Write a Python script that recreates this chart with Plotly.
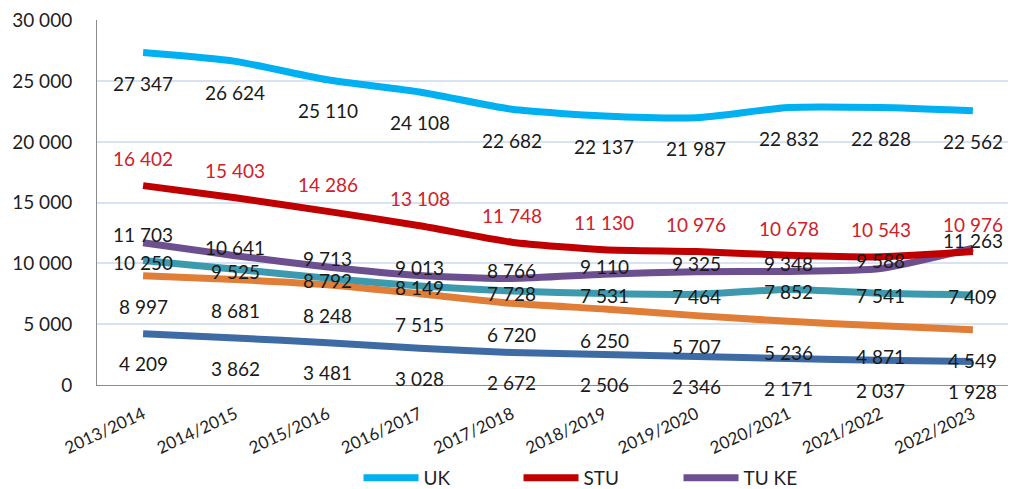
import plotly.graph_objects as go

years = ["2013/2014", "2014/2015", "2015/2016", "2016/2017", "2017/2018",
         "2018/2019", "2019/2020", "2020/2021", "2021/2022", "2022/2023"]

uk = [27347, 26624, 25110, 24108, 22682, 22137, 21987, 22832, 22828, 22562]
stu = [16402, 15403, 14286, 13108, 11748, 11130, 10976, 10678, 10543, 10976]
tuke = [11703, 10641, 9713, 9013, 8766, 9110, 9325, 9348, 9588, 11263]
teal_s = [10250, 9525, 8792, 8149, 7728, 7531, 7464, 7852, 7541, 7409]
orange_s = [8997, 8681, 8248, 7515, 6720, 6250, 5707, 5236, 4871, 4549]
blue_s = [4209, 3862, 3481, 3028, 2672, 2506, 2346, 2171, 2037, 1928]

FONT = "Lato"
FS = 19

series = [
    # name, values, color, show legend, label color, label y-shift
    ("UK", uk, "#00B0F0", True, "#1a1a1a", -31),
    ("STU", stu, "#C00000", True, "#D0202A", 27),
    ("TU KE", tuke, "#6B4F8F", True, "#1a1a1a", 8),
    ("S4", teal_s, "#3D9AAE", False, "#1a1a1a", -2),
    ("S5", orange_s, "#E07D36", False, "#1a1a1a", -31),
    ("S6", blue_s, "#3F6BA5", False, "#1a1a1a", -30),
]

def fmt(v):
    return f"{v:,}".replace(",", " ")

fig = go.Figure()
annotations = []
# draw order: lower series first so UK/STU/TU KE sit on top
for name, vals, color, show, lcol, shift in reversed(series):
    fig.add_trace(go.Scatter(
        x=years, y=vals, mode="lines", name=name,
        line=dict(color=color, width=7, shape="spline", smoothing=0.6),
        showlegend=show,
    ))
for name, vals, color, show, lcol, shift in series:
    for xv, yv in zip(years, vals):
        annotations.append(dict(
            x=xv, y=yv, text=fmt(yv), showarrow=False, yshift=shift,
            font=dict(family=FONT, size=FS, color=lcol),
        ))

fig.update_layout(
    width=1016, height=489,
    margin=dict(l=89, r=5, t=12, b=112, autoexpand=False),
    paper_bgcolor="white", plot_bgcolor="white",
    separators=", ",
    font=dict(family=FONT, size=FS, color="#1f1f1f"),
    annotations=annotations,
    showlegend=True,
    legend=dict(
        orientation="h", x=0.345, xref="container", xanchor="left",
        y=0.039, yref="container", yanchor="middle",
        traceorder="reversed",
        font=dict(family=FONT, size=FS, color="#1f1f1f"),
        itemwidth=55,
        entrywidth=90, entrywidthmode="pixels",
        bgcolor="rgba(0,0,0,0)",
    ),
    xaxis=dict(
        type="category", range=[-0.5, 9.5], automargin=False,
        tickangle=-25, showgrid=False,
        showline=True, linecolor="#8C8C8C", linewidth=1,
        ticks="", ticklabelstandoff=12,
        tickfont=dict(family=FONT, size=17, color="#1f1f1f"),
    ),
    yaxis=dict(
        range=[0, 30030], tickmode="linear", tick0=0, dtick=5000,
        tickformat=",d", automargin=False,
        showgrid=True, gridcolor="#D9E2F0", gridwidth=1.5,
        showline=True, linecolor="#8C8C8C", linewidth=1,
        zeroline=False, ticks="", ticklabelstandoff=20,
        tickfont=dict(family=FONT, size=FS, color="#1f1f1f"),
    ),
)

fig.write_html("out.html")
